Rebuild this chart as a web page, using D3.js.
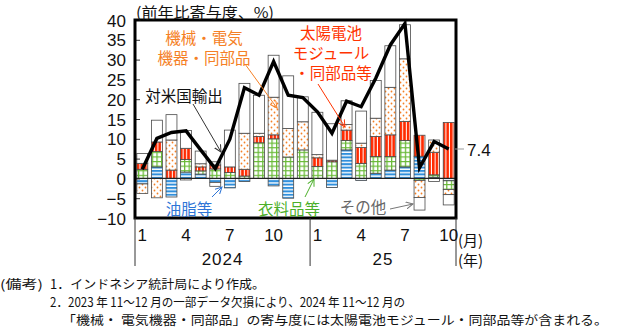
<!DOCTYPE html>
<html><head><meta charset="utf-8">
<script src="https://cdn.jsdelivr.net/npm/d3@7"></script>
<style>body{margin:0;background:#fff} svg{display:block}</style>
</head><body><svg id="c" width="618" height="328"></svg>
<script>
// ---- data ----
const months = ["2024-01","2024-02","2024-03","2024-04","2024-05","2024-06","2024-07","2024-08","2024-09","2024-10","2024-11","2024-12",
                "2025-01","2025-02","2025-03","2025-04","2025-05","2025-06","2025-07","2025-08","2025-09","2025-10"];
const seriesNames = ["油脂等","衣料品等","太陽電池モジュール・同部品等","機械・電気機器・同部品","その他"];
const oil       = [-1.4, 2.9,-4.7, 1.6, 1.1,-1.0,-2.4,-0.8, 0.0,-1.9,-5.0, 0.0, 0.0,-2.3, 7.2,-0.5, 1.3, 2.1, 2.9, 5.6, 0.3,-0.6];
const clothing  = [ 2.3, 3.9, 0.0, 3.2, 0.8, 2.4, 1.5, 0.6, 9.0,10.0, 5.4, 7.2, 3.0, 4.2, 2.4, 3.8, 4.2, 3.4, 6.7,-0.5, 0.6,-2.2];
const solar     = [ 1.5, 2.4, 2.1, 2.8, 1.0, 1.0, 1.4, 1.7, 1.6, 1.0, 0.0, 0.0, 2.2, 0.4, 2.6, 4.0, 5.1, 5.5, 4.8, 5.3, 5.7,14.1];
const machinery = [-2.4,-4.9, 7.6,-0.4, 0.8, 0.8, 0.0, 9.1, 0.8, 9.5, 7.2, 7.1, 0.8, 0.0, 1.4, 1.1, 4.6,12.0,15.8,-4.3, 3.1,-1.3];
const other     = [ 2.5, 5.5, 6.4, 4.5, 3.2,-1.0, 9.3,12.6, 9.6,10.6,13.3, 6.3,10.7, 9.2, 6.0, 8.1, 9.5,10.5, 8.6,-3.2,-0.8,-2.6];
const usExports = [ 2.3,10.1,11.6,12.0, 7.2, 2.5, 9.9,22.9,21.0,29.5,21.0,20.4,16.8,11.4,19.5,18.1,25.3,33.7,39.1, 2.7, 9.3, 7.4];
const yTicks = [40,35,30,25,20,15,10,5,0,-5,-10];
const monthTickIdx = [0,3,6,9,12,15,18,21];
const monthTickLabels = ["1","4","7","10","1","4","7","10"];
const yearLabels = ["2024","25"];
const lastValueLabel = "7.4";

// ---- layout ----
const svg = d3.select("#c");
const L = 135, R = 456, T = 20, B = 218;
const x = d3.scaleBand().domain(months).range([L, R]).paddingInner(0.25).paddingOuter(0.125);
const y = d3.scaleLinear().domain([-10, 40]).range([B, T]);

const keys = ["oil","clothing","solar","machinery","other"];
const table = months.map((m, i) => ({month: m, oil: oil[i], clothing: clothing[i], solar: solar[i], machinery: machinery[i], other: other[i]}));
const stacked = d3.stack().keys(keys).offset(d3.stackOffsetDiverging)(table);

// ---- patterns ----
const defs = svg.append("defs");
const pOil = defs.append("pattern").attr("id","p-oil").attr("patternUnits","userSpaceOnUse").attr("width",4).attr("height",3.4);
pOil.append("rect").attr("width",4).attr("height",3.4).attr("fill","#fff");
pOil.append("rect").attr("width",4).attr("height",2).attr("fill","#2f8fdc");
const pCl = defs.append("pattern").attr("id","p-cloth").attr("patternUnits","userSpaceOnUse").attr("width",4.6).attr("height",4.6);
pCl.append("rect").attr("width",4.6).attr("height",4.6).attr("fill","#fff");
pCl.append("path").attr("d","M0,0.6H4.6M0.6,0V4.6").attr("stroke","#68b936").attr("stroke-width",1.3);
const pSo = defs.append("pattern").attr("id","p-solar").attr("patternUnits","userSpaceOnUse").attr("width",3.6).attr("height",4);
pSo.append("rect").attr("width",3.6).attr("height",4).attr("fill","#ff2a00");
pSo.append("rect").attr("x",2.6).attr("width",1).attr("height",4).attr("fill","#fff");
const pMa = defs.append("pattern").attr("id","p-mach").attr("patternUnits","userSpaceOnUse").attr("width",6).attr("height",6);
pMa.append("rect").attr("width",6).attr("height",6).attr("fill","#fff");
pMa.append("circle").attr("cx",1.5).attr("cy",1.5).attr("r",0.9).attr("fill","#f58025");
pMa.append("circle").attr("cx",4.5).attr("cy",4.5).attr("r",0.9).attr("fill","#f58025");
const fills = {oil:"url(#p-oil)", clothing:"url(#p-cloth)", solar:"url(#p-solar)", machinery:"url(#p-mach)", other:"#fff"};

function marker(id, color){
  defs.append("marker").attr("id",id).attr("viewBox","0 0 8 8").attr("refX",7).attr("refY",4)
    .attr("markerWidth",8).attr("markerHeight",8).attr("markerUnits","userSpaceOnUse").attr("orient","auto")
    .append("path").attr("d","M0,0.5L7,4L0,7.5").attr("fill","none").attr("stroke",color).attr("stroke-width",1);
}
marker("m-or","#f58025"); marker("m-red","#ff3300"); marker("m-blk","#333"); marker("m-blue","#2e75d6"); marker("m-green","#4caf2a"); marker("m-gray","#777");

// ---- bars ----
const g = svg.append("g");
stacked.forEach(s => {
  g.append("g").selectAll("rect").data(s).join("rect")
    .attr("x", d => x(d.data.month))
    .attr("width", x.bandwidth())
    .attr("y", d => y(Math.max(d[0], d[1])))
    .attr("height", d => Math.abs(y(d[0]) - y(d[1])))
    .attr("fill", fills[s.key])
    .attr("stroke", "#4a4a4a").attr("stroke-width", 0.8)
    .attr("display", d => Math.abs(d[1]-d[0]) < 0.01 ? "none" : null);
});

// ---- frame & axes ----
svg.append("line").attr("x1",L).attr("x2",R).attr("y1",y(0)).attr("y2",y(0)).attr("stroke","#222").attr("stroke-width",1.2);
const narrow = "'Liberation Sans Narrow','Arial Narrow',sans-serif";
const yAxis = svg.append("g").attr("transform",`translate(${L},0)`)
  .call(d3.axisLeft(y).tickValues(yTicks).tickSize(-5).tickPadding(9).tickFormat(d => d < 0 ? "−" + Math.abs(d) : d));
yAxis.select(".domain").remove();
yAxis.selectAll("line").attr("stroke","#333");
yAxis.selectAll("text").attr("font-family",narrow).attr("font-size",17).attr("fill","#111").attr("dy","0.36em");

// line
svg.append("path").datum(usExports)
  .attr("d", d3.line().x((d,i) => x(months[i]) + x.bandwidth()/2).y(d => y(d)))
  .attr("fill","none").attr("stroke","#000").attr("stroke-width",3.4).attr("stroke-linejoin","miter");

svg.append("rect").attr("x",L).attr("y",T).attr("width",R-L).attr("height",B-T)
  .attr("fill","none").attr("stroke","#000").attr("stroke-width",3);

// category axis region
const sepX = [L, x(months[12]) - x.step()*x.paddingInner()/2, R];
svg.selectAll("line.sep").data(sepX).join("line").attr("class","sep")
  .attr("x1", d=>d).attr("x2", d=>d).attr("y1", B).attr("y2", 266).attr("stroke","#333").attr("stroke-width",1);
const xAxis = svg.append("g").attr("transform",`translate(0,${B})`)
  .call(d3.axisBottom(x).tickValues(monthTickIdx.map(i => months[i])).tickSize(0).tickPadding(11)
    .tickFormat(m => monthTickLabels[monthTickIdx.indexOf(months.indexOf(m))]));
xAxis.select(".domain").remove();
xAxis.selectAll("text").attr("font-family",narrow).attr("font-size",17).attr("fill","#111");
svg.selectAll("text.yr").data(yearLabels).join("text").attr("class","yr")
  .attr("x",(d,i) => (sepX[i]+sepX[i+1])/2).attr("y",265).attr("text-anchor","middle")
  .attr("font-family",narrow).attr("font-size",17).attr("letter-spacing",1).attr("fill","#111").text(d=>d);

const jp = "'Noto Sans CJK JP','Noto Sans',sans-serif";
function txt(s, xx, yy, color, size, anchor, len){
  const t = svg.append("text").attr("x",xx).attr("y",yy).attr("fill",color).attr("font-family",jp)
    .attr("font-size",size||15.5).attr("text-anchor",anchor||"start").attr("dominant-baseline","central").text(s);
  if (len) t.attr("textLength",len).attr("lengthAdjust","spacingAndGlyphs");
  return t;
}
txt("(月)", 458, 239, "#111", 15);
txt("(年)", 458, 259, "#111", 15);
txt("(前年比寄与度、%)", 136, 11, "#111", 15, "start", 138);

// annotations
txt("機械・電気", 204, 37, "#f58025", 15.5, "middle");
txt("機器・同部品", 204, 57, "#f58025", 15.5, "middle");
txt("太陽電池", 331, 32, "#ff3300", 15.5, "middle");
txt("モジュール", 331, 52, "#ff3300", 15.5, "middle");
txt("・同部品等", 333, 72, "#ff3300", 15.5, "middle");
txt("対米国輸出", 184, 95, "#111", 15.5, "middle");
txt("油脂等", 189, 208, "#2e75d6", 15.5, "middle");
txt("衣料品等", 289, 208, "#4caf2a", 15.5, "middle");
txt("その他", 363, 206, "#666", 15.5, "middle");
txt(lastValueLabel, 467, 150, "#111", 17).attr("font-family",narrow);

function arrow(x1,y1,x2,y2,color,m){
  svg.append("line").attr("x1",x1).attr("y1",y1).attr("x2",x2).attr("y2",y2)
    .attr("stroke",color).attr("stroke-width",1).attr("marker-end", m ? `url(#${m})` : null);
}
arrow(245,64,277,108,"#f58025","m-or");
arrow(318,84,345,127,"#ff3300","m-red");
arrow(193,104,221,152,"#333","m-blk");
arrow(212,197,222,187,"#2e75d6","m-blue");
arrow(305,197,314,179,"#4caf2a","m-green");
arrow(390,209,413,204,"#777","m-gray");
arrow(455,149,464,149,"#999",null);

// footnotes
const fn = 12.5;
txt("(備考)", 0, 283, "#111", fn, "start", 43);
txt("1．インドネシア統計局により作成。", 50, 283, "#111", fn, "start", 215);
txt("2．2023 年 11～12 月の一部データ欠損により、2024 年 11～12 月の", 50, 301, "#111", fn, "start", 355);
txt("「機械・ 電気機器・同部品」の寄与度には太陽電池モジュール・同部品等が含まれる。", 62, 319, "#111", fn, "start", 546);
</script></body></html>
